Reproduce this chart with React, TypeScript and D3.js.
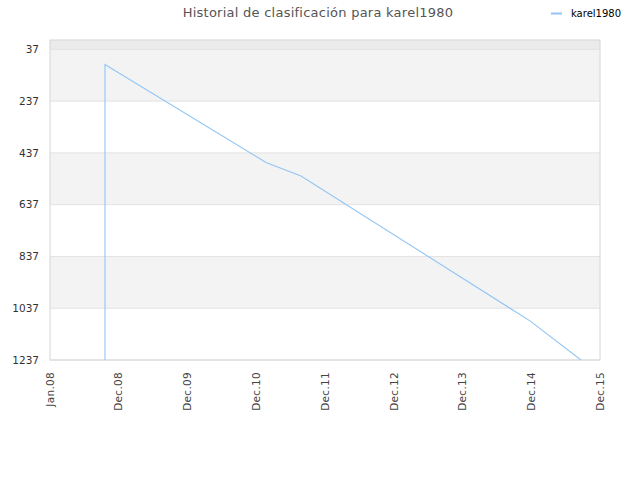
import * as d3 from "d3";

// Historial de clasificación (rank over time), rank 1 at the top.

const TITLE = "Historial de clasificación para karel1980";
const SERIES_NAME = "karel1980";

const dates = ["2008-10-19", "2008-10-19", "2011-02-21", "2011-08-26", "2014-12-24", "2015-09-21"];
const ranks = [1237, 96, 474, 526, 1086, 1237];

const yTicks = [37, 237, 437, 637, 837, 1037, 1237];
const xTickDates = [
  "2008-01-01", "2008-12-31", "2009-12-31", "2010-12-31", "2011-12-31",
  "2012-12-31", "2013-12-31", "2014-12-31", "2015-12-31",
];
const xTickLabels = ["Jan.08", "Dec.08", "Dec.09", "Dec.10", "Dec.11", "Dec.12", "Dec.13", "Dec.14", "Dec.15"];

const W = 640;
const H = 480;
const PLOT = { left: 50, right: 600, top: 40, bottom: 360 };
const LINE_COLOR = "#92c5f5";
const FONT = "DejaVu Sans, sans-serif";

const parse = d3.utcParse("%Y-%m-%d");

export default function App() {
  const x = d3
    .scaleUtc()
    .domain([parse("2008-01-01")!, parse("2015-12-31")!])
    .range([PLOT.left, PLOT.right]);
  const y = d3.scaleLinear().domain([1, 1237]).range([PLOT.top, PLOT.bottom]);

  const points = dates.map((d, i) => ({ date: parse(d)!, rank: ranks[i] }));
  const line = d3
    .line<{ date: Date; rank: number }>()
    .x((d) => x(d.date))
    .y((d) => y(d.rank));

  // bandas alternas entre ticks; la franja sobre el primer tick es algo más oscura
  const bandEdges = [1, ...yTicks];
  const bands = bandEdges.slice(0, -1).map((v, i) => ({
    y0: y(v),
    y1: y(bandEdges[i + 1]),
    fill: i === 0 ? "#ebebeb" : i % 2 === 1 ? "#f3f3f3" : "#ffffff",
  }));

  return (
    <div style={{ position: "absolute", left: 0, top: 0 }}>
      <svg width={W} height={H} style={{ display: "block", background: "#fff" }}>
        <text x={318} y={17} textAnchor="middle" fontFamily={FONT} fontSize={13} letterSpacing={0.25} fill="#555">
          {TITLE}
        </text>

        <line x1={551} x2={562} y1={13.5} y2={13.5} stroke={LINE_COLOR} strokeWidth={2} />
        <text x={571} y={17} fontFamily={FONT} fontSize={10} fill="#000">
          {SERIES_NAME}
        </text>

        {bands.map((b, i) => (
          <rect key={i} x={PLOT.left} y={b.y0} width={PLOT.right - PLOT.left} height={b.y1 - b.y0} fill={b.fill} />
        ))}
        {yTicks.map((t) => (
          <line key={t} x1={PLOT.left} x2={PLOT.right} y1={y(t)} y2={y(t)} stroke="#e2e2e2" />
        ))}
        <rect
          x={PLOT.left}
          y={PLOT.top}
          width={PLOT.right - PLOT.left}
          height={PLOT.bottom - PLOT.top}
          fill="none"
          stroke="#d6d6d6"
        />

        {yTicks.map((t) => (
          <text key={t} x={39} y={y(t)} dy="0.35em" textAnchor="end" fontFamily={FONT} fontSize={10.5} fill="#333">
            {t}
          </text>
        ))}

        {xTickDates.map((d, i) => {
          const px = x(parse(d)!);
          return (
            <text
              key={d}
              transform={`translate(${px},${PLOT.bottom + 12}) rotate(-90)`}
              dy="0.35em"
              textAnchor="end"
              fontFamily={FONT}
              fontSize={10.5}
              letterSpacing={0.3}
              fill="#444"
            >
              {xTickLabels[i]}
            </text>
          );
        })}

        <clipPath id="plot-clip">
          <rect x={PLOT.left} y={PLOT.top} width={PLOT.right - PLOT.left} height={PLOT.bottom - PLOT.top} />
        </clipPath>
        <path d={line(points) ?? ""} fill="none" stroke={LINE_COLOR} strokeWidth={1.1} clipPath="url(#plot-clip)" />
      </svg>
    </div>
  );
}
